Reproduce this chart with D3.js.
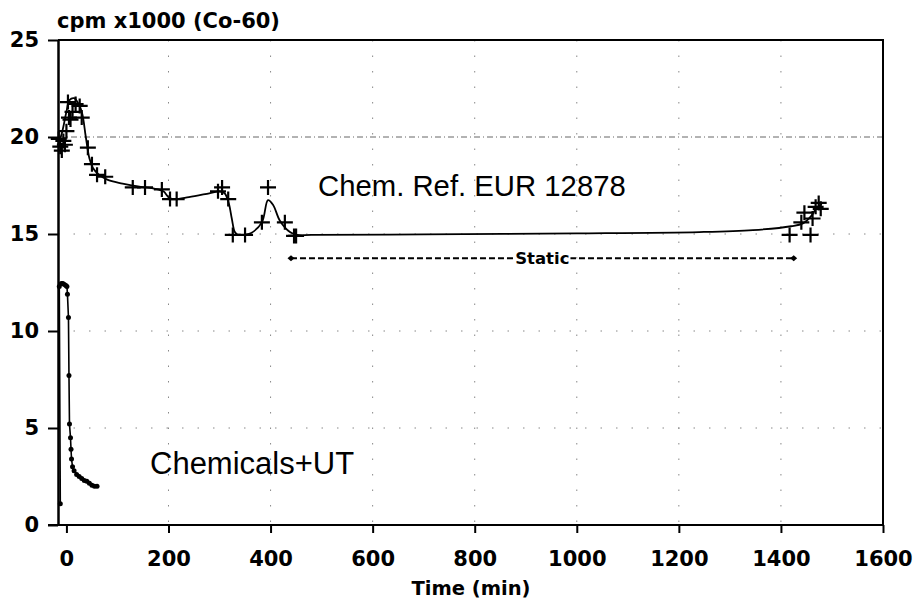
<!DOCTYPE html>
<html>
<head>
<meta charset="utf-8">
<script src="https://cdn.jsdelivr.net/npm/d3@7"></script>
<style>
  html, body { margin: 0; padding: 0; background: #fff; }
  svg { display: block; }
</style>
</head>
<body>
<svg id="chart" width="914" height="601"></svg>
<script>
// Time (min) and count rate (cpm x1000) readings
const xTicks = [0, 200, 400, 600, 800, 1000, 1200, 1400, 1600];
const yTicks = [0, 5, 10, 15, 20, 25];
const gridX = [200, 400, 600, 800, 1000, 1200, 1400];
const gridY = [5, 10, 15, 20];

// Chem. Ref. EUR 12878: measured points (crosses)
const refTime = [-15, -12, -9, -6, -3, 0, 3, 5, 8, 12, 18, 26, 30, 42, 50, 60, 76, 130, 154, 187, 203, 216, 297, 305, 317, 326, 350, 383, 395, 428, 446, 450, 1417, 1440, 1446, 1458, 1462, 1468, 1474, 1478];
const refValue = [19.9, 19.5, 19.3, 19.8, 19.6, 20.3, 21.8, 21.0, 20.9, 21.3, 21.7, 21.6, 21.0, 19.45, 18.6, 18.05, 17.95, 17.4, 17.4, 17.3, 16.8, 16.8, 17.2, 17.4, 16.8, 14.95, 14.95, 15.6, 17.4, 15.6, 14.9, 14.9, 14.95, 15.6, 16.1, 14.95, 15.8, 16.4, 16.6, 16.3];

// Chem. Ref. EUR 12878: smoothed trend
const refFitTime = [-16, -8, 0, 6, 15, 24, 31, 38, 45, 52, 62, 80, 110, 140, 170, 190, 200, 210, 240, 280, 300, 310, 318, 324, 330, 336, 350, 362, 383, 395, 405, 418, 438, 452, 480, 700, 1000, 1240, 1345, 1420, 1443, 1460, 1470, 1480];
const refFitValue = [19.6, 20.3, 21.3, 21.9, 22.0, 21.7, 21.2, 20.0, 18.9, 18.4, 18.1, 17.8, 17.6, 17.45, 17.35, 17.2, 16.9, 16.8, 16.9, 17.1, 17.2, 17.1, 16.6, 15.8, 15.1, 14.95, 14.97, 15.05, 15.6, 16.75, 16.5, 15.7, 15.1, 14.95, 14.95, 14.98, 15.03, 15.1, 15.2, 15.4, 15.55, 15.95, 16.35, 16.55];

// Chemicals+UT
const chemTime = [-12, -14, -10, -7, -4, -1, 1, 2, 4, 5, 6, 8, 9, 10, 12, 15, 20, 25, 30, 35, 40, 45, 50, 55, 60];
const chemValue = [1.1, 12.3, 12.45, 12.45, 12.4, 12.35, 12.3, 11.9, 10.7, 7.7, 5.2, 4.5, 3.9, 3.4, 3.0, 2.8, 2.6, 2.5, 2.4, 2.3, 2.25, 2.15, 2.05, 2.0, 2.0];

// "Static" period
const staticStart = 440;
const staticEnd = 1425;
const staticLevel = 13.75;

const svg = d3.select("#chart");
const plotLeft = 58, plotRight = 883, plotTop = 40, plotBottom = 525;

const x = d3.scaleLinear().domain([-16.5, 1600]).range([plotLeft, plotRight]);
const y = d3.scaleLinear().domain([0, 25]).range([plotBottom, plotTop]);

const numFont = "'DejaVu Sans', sans-serif";
const textFont = "'Liberation Sans', Arial, sans-serif";

// sparse dotted grid
const grid = svg.append("g").attr("stroke", "#888").attr("stroke-width", 1).attr("fill", "none");
grid.selectAll("line.gx").data(gridX).join("line")
  .attr("x1", d => x(d)).attr("x2", d => x(d))
  .attr("y1", plotTop).attr("y2", plotBottom)
  .attr("stroke-dasharray", "1.5,14");
grid.selectAll("line.gy").data(gridY).join("line")
  .attr("x1", plotLeft).attr("x2", plotRight)
  .attr("y1", d => y(d)).attr("y2", d => y(d))
  .attr("stroke-dasharray", d => d === 20 ? "6,3,1,3" : "1.5,14")
  .attr("stroke", d => d === 20 ? "#666" : "#888");

// axes
const xAxis = d3.axisBottom(x).tickValues(xTicks).tickFormat(d3.format("d"))
  .tickSize(8).tickPadding(18).tickSizeOuter(0);
const yAxis = d3.axisLeft(y).tickValues(yTicks).tickFormat(d3.format("d"))
  .tickSize(10).tickPadding(9).tickSizeOuter(0);

const gx = svg.append("g").attr("transform", `translate(0,${plotBottom})`).call(xAxis);
gx.select(".domain").attr("d", `M${plotLeft - 10},0H${plotRight}`).attr("stroke-width", 2);
gx.selectAll(".tick line").attr("stroke-width", 2);
gx.selectAll(".tick text").attr("font-family", numFont).attr("font-weight", "bold").attr("font-size", 21).attr("fill", "#000");

const gy = svg.append("g").attr("transform", `translate(${plotLeft},0)`).call(yAxis);
gy.select(".domain").attr("stroke-width", 2.5);
gy.selectAll(".tick line").attr("stroke-width", 2);
gy.selectAll(".tick text").attr("font-family", numFont).attr("font-weight", "bold").attr("font-size", 21).attr("fill", "#000");

// frame top and right
svg.append("path")
  .attr("d", `M${plotLeft},${plotTop}H${plotRight}V${plotBottom}`)
  .attr("fill", "none").attr("stroke", "#000").attr("stroke-width", 2);

// axis titles
svg.append("text").attr("x", 57).attr("y", 28)
  .attr("font-family", numFont).attr("font-weight", "bold").attr("font-size", 21)
  .text("cpm x1000 (Co-60)");
svg.append("text").attr("x", 471).attr("y", 595).attr("text-anchor", "middle")
  .attr("font-family", numFont).attr("font-weight", "bold").attr("font-size", 19.5)
  .text("Time (min)");

// Chem. Ref. series
const refFit = refFitTime.map((t, i) => [t, refFitValue[i]]);
svg.append("path")
  .datum(refFit)
  .attr("fill", "none").attr("stroke", "#000").attr("stroke-width", 1.8)
  .attr("d", d3.line().x(d => x(d[0])).y(d => y(d[1])).curve(d3.curveCatmullRom.alpha(0.5)));

const refPts = refTime.map((t, i) => [t, refValue[i]]);
svg.append("g").selectAll("path").data(refPts).join("path")
  .attr("transform", d => `translate(${x(d[0])},${y(d[1])})`)
  .attr("d", "M-8,0H8M0,-7.5V7.5")
  .attr("stroke", "#000").attr("stroke-width", 2.2).attr("fill", "none");

// Chemicals+UT series
const chemPts = chemTime.map((t, i) => [t, chemValue[i]]);
svg.append("path")
  .datum(chemPts)
  .attr("fill", "none").attr("stroke", "#000").attr("stroke-width", 1.6)
  .attr("d", d3.line().x(d => x(d[0])).y(d => y(d[1])));
svg.append("g").selectAll("circle").data(chemPts).join("circle")
  .attr("cx", d => x(d[0])).attr("cy", d => y(d[1])).attr("r", 2.5)
  .attr("fill", "#000");

// "Static" interval
const sy = y(staticLevel);
svg.append("line")
  .attr("x1", x(staticStart)).attr("x2", x(staticEnd))
  .attr("y1", sy).attr("y2", sy)
  .attr("stroke", "#000").attr("stroke-width", 2).attr("stroke-dasharray", "6,3");
svg.append("g").selectAll("path").data([staticStart, staticEnd]).join("path")
  .attr("transform", d => `translate(${x(d)},${sy})`)
  .attr("d", "M-3.5,0L0,-3L3.5,0L0,3Z")
  .attr("fill", "#000");
const staticMid = (staticStart + staticEnd) / 2;
const staticBg = svg.append("rect").attr("fill", "#fff");
const st = svg.append("text")
  .attr("x", x(staticMid)).attr("y", sy + 6).attr("text-anchor", "middle")
  .attr("font-family", numFont).attr("font-weight", "bold").attr("font-size", 16.5)
  .text("Static");
const bb = st.node().getBBox();
staticBg.attr("x", bb.x - 1).attr("y", sy - 3).attr("width", bb.width + 2).attr("height", 6);

// series labels
svg.append("text").attr("x", 318).attr("y", 196)
  .attr("font-family", textFont).attr("font-size", 29.3)
  .text("Chem. Ref. EUR 12878");
svg.append("text").attr("x", 150).attr("y", 474)
  .attr("font-family", textFont).attr("font-size", 31)
  .text("Chemicals+UT");
</script>
</body>
</html>
